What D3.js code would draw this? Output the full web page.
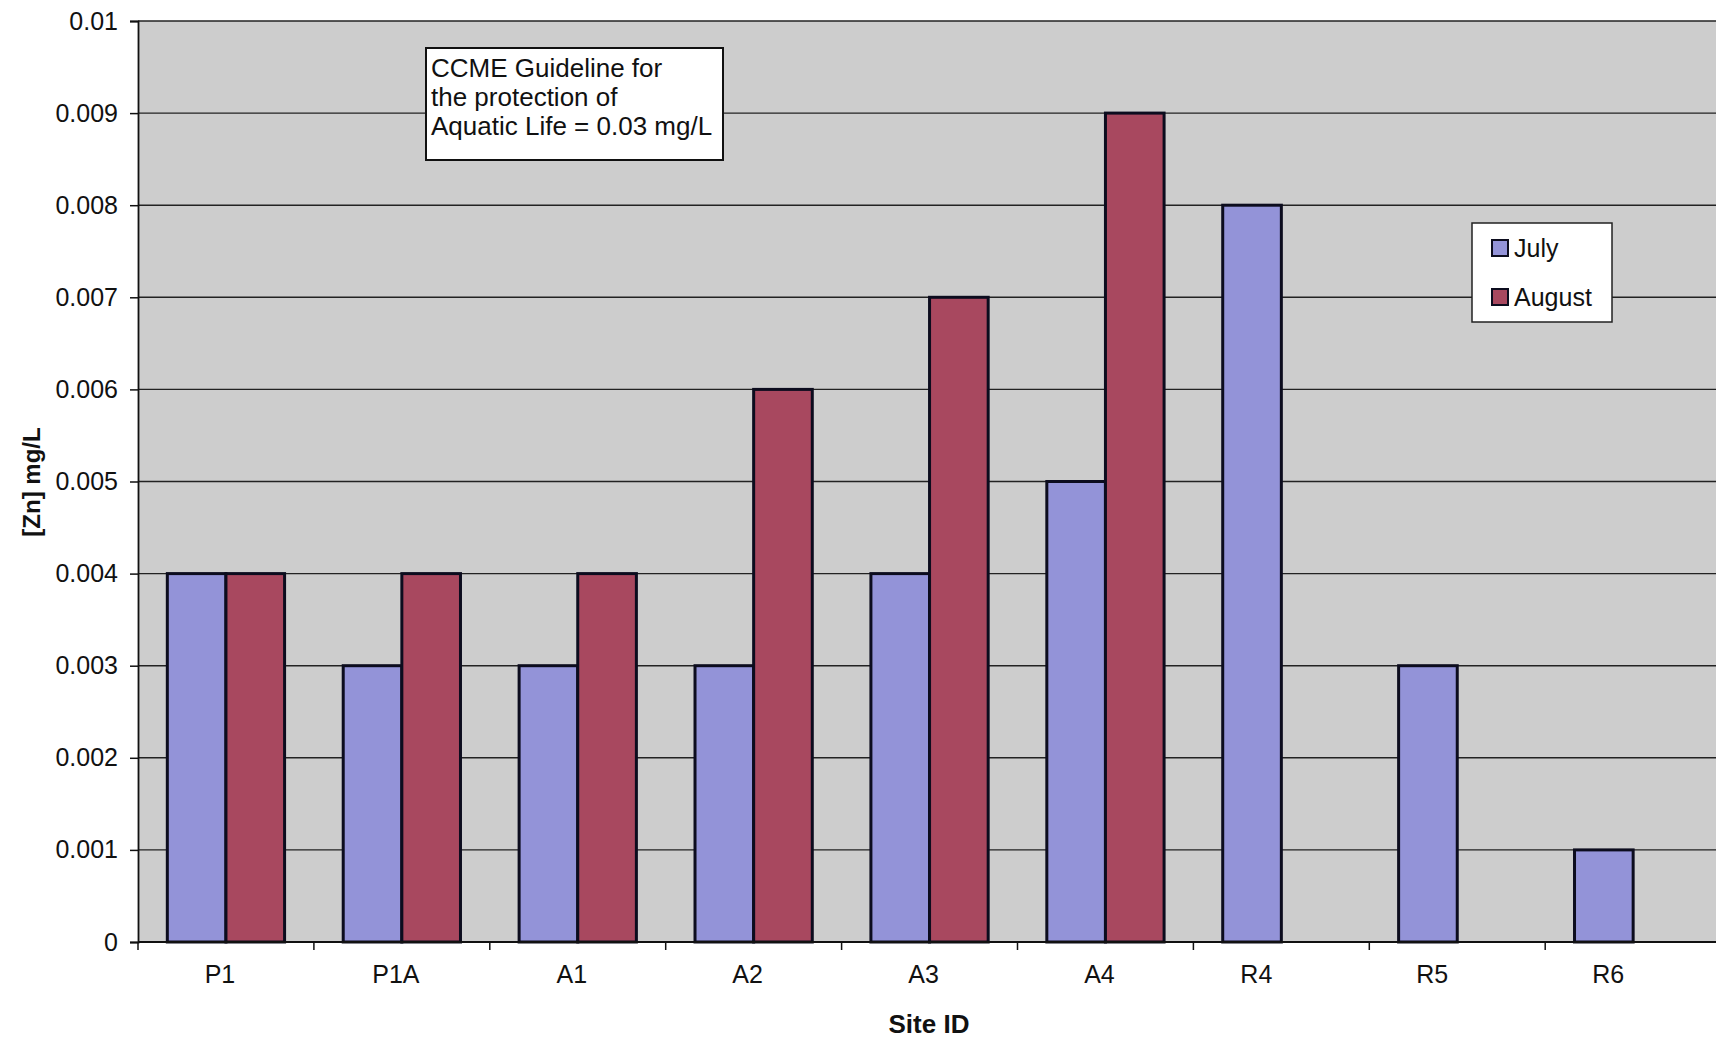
<!DOCTYPE html>
<html>
<head>
<meta charset="utf-8">
<script src="https://cdn.jsdelivr.net/npm/d3@7"></script>
<style>
  html, body { margin: 0; padding: 0; background: #ffffff; }
  svg { display: block; font-family: "Liberation Sans", Arial, sans-serif; }
</style>
</head>
<body>
<svg id="chart" width="1716" height="1040"></svg>
<script>
// ---- data ----
const categories = ["P1", "P1A", "A1", "A2", "A3", "A4", "R4", "R5", "R6"];
const seriesNames = ["July", "August"];
const julyValues = [0.004, 0.003, 0.003, 0.003, 0.004, 0.005, 0.008, 0.003, 0.001];
const augustValues = [0.004, 0.004, 0.004, 0.006, 0.007, 0.009, null, null, null];
const yTicks = [0, 0.001, 0.002, 0.003, 0.004, 0.005, 0.006, 0.007, 0.008, 0.009, 0.01];
const yTickLabels = ["0", "0.001", "0.002", "0.003", "0.004", "0.005", "0.006", "0.007", "0.008", "0.009", "0.01"];
const noteLines = ["CCME Guideline for", "the protection of", "Aquatic Life = 0.03 mg/L"];
const xTitle = "Site ID";
const yTitle = "[Zn] mg/L";

// ---- layout ----
const plot = { left: 138, top: 21, bottom: 942, right: 138 + 9 * 175.9 };
const colors = { July: "#9393d8", August: "#a8485f" };
const svg = d3.select("#chart");

const x = d3.scaleBand().domain(categories).range([plot.left, plot.right]).padding(0);
const xs = d3.scaleBand().domain(seriesNames).range([0, x.bandwidth()]).paddingInner(0).paddingOuter(0.5);
const y = d3.scaleLinear().domain([0, 0.01]).range([plot.bottom, plot.top]);

// plot background
svg.append("rect")
  .attr("x", plot.left).attr("y", plot.top)
  .attr("width", plot.right - plot.left).attr("height", plot.bottom - plot.top)
  .attr("fill", "#cdcdcd");

// gridlines
svg.append("g").selectAll("line").data(yTicks.slice(1)).join("line")
  .attr("x1", plot.left).attr("x2", plot.right)
  .attr("y1", d => y(d)).attr("y2", d => y(d))
  .attr("stroke", "#222").attr("stroke-width", 1.4);

// bars
const rows = categories.map((c, i) => ({ cat: c, July: julyValues[i], August: augustValues[i] }));
const gBars = svg.append("g");
rows.forEach(r => {
  seriesNames.forEach(s => {
    if (r[s] == null) return;
    gBars.append("rect")
      .attr("x", x(r.cat) + xs(s))
      .attr("y", y(r[s]))
      .attr("width", xs.bandwidth())
      .attr("height", y(0) - y(r[s]))
      .attr("fill", colors[s])
      .attr("stroke", "#0c0c1e")
      .attr("stroke-width", 3);
  });
});

// y axis
const yAxis = d3.axisLeft(y).tickValues(yTicks)
  .tickFormat((d, i) => yTickLabels[i]).tickSize(8).tickPadding(12);
const gy = svg.append("g").attr("transform", `translate(${plot.left},0)`).call(yAxis);
gy.select(".domain").attr("stroke", "#111").attr("stroke-width", 1.8);
gy.selectAll(".tick line").attr("stroke", "#111").attr("stroke-width", 1.5);
gy.selectAll(".tick text").attr("font-size", 25).attr("fill", "#111")
  .attr("font-family", "Liberation Sans, Arial, sans-serif");

// x axis line and ticks between categories
const gx = svg.append("g");
gx.append("line").attr("x1", plot.left).attr("x2", plot.right)
  .attr("y1", plot.bottom).attr("y2", plot.bottom)
  .attr("stroke", "#111").attr("stroke-width", 2);
const boundaries = categories.map(c => x(c)).concat([plot.right]);
gx.selectAll("line.tk").data(boundaries).join("line").attr("class", "tk")
  .attr("x1", d => d).attr("x2", d => d)
  .attr("y1", plot.bottom).attr("y2", plot.bottom + 8)
  .attr("stroke", "#111").attr("stroke-width", 1.5);
gx.selectAll("text").data(categories).join("text")
  .attr("x", (d, i) => x(d) + x.bandwidth() / 2 - (i >= 6 ? 25 : 6))
  .attr("y", 983)
  .attr("text-anchor", "middle")
  .attr("font-size", 25).attr("fill", "#111")
  .text(d => d);

// axis titles
svg.append("text").attr("x", 929).attr("y", 1033)
  .attr("text-anchor", "middle").attr("font-size", 26).attr("font-weight", "bold")
  .attr("fill", "#111").text(xTitle);
svg.append("text")
  .attr("transform", "translate(40,482) rotate(-90)")
  .attr("text-anchor", "middle").attr("font-size", 24).attr("font-weight", "bold")
  .attr("fill", "#111").text(yTitle);

// annotation text box
const note = svg.append("g");
note.append("rect").attr("x", 426).attr("y", 48).attr("width", 297).attr("height", 112)
  .attr("fill", "#ffffff").attr("stroke", "#111").attr("stroke-width", 2);
note.selectAll("text").data(noteLines).join("text")
  .attr("x", 431).attr("y", (d, i) => 77 + i * 29)
  .attr("font-size", 26).attr("fill", "#111").text(d => d);

// legend
const leg = svg.append("g");
leg.append("rect").attr("x", 1472).attr("y", 223).attr("width", 140).attr("height", 99)
  .attr("fill", "#ffffff").attr("stroke", "#222").attr("stroke-width", 1.5);
seriesNames.forEach((s, i) => {
  leg.append("rect").attr("x", 1492).attr("y", 240 + i * 49).attr("width", 16).attr("height", 16)
    .attr("fill", colors[s]).attr("stroke", "#0c0c1e").attr("stroke-width", 2);
  leg.append("text").attr("x", 1514).attr("y", 257 + i * 49)
    .attr("font-size", 25).attr("fill", "#111").text(s);
});
</script>
</body>
</html>
